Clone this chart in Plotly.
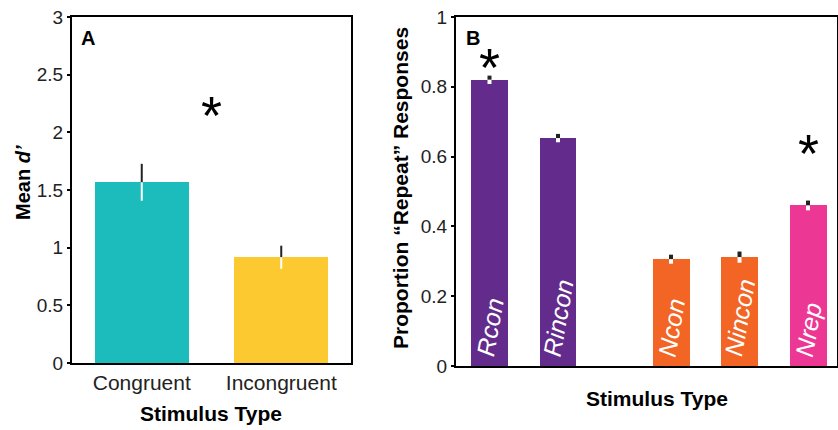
import plotly.graph_objects as go

W, H = 838, 430

# ---- Data ----
a_categories = ["Congruent", "Incongruent"]
a_values = [1.567, 0.917]
a_errors = [0.16, 0.10]
a_colors = ["#1BBCBB", "#FCC931"]

b_labels = ["Rcon", "Rincon", "Ncon", "Nincon", "Nrep"]
b_positions = [1, 2, 3.65, 4.65, 5.65]
b_values = [0.82, 0.653, 0.306, 0.312, 0.46]
b_errors = [0.012, 0.012, 0.013, 0.016, 0.014]
b_colors = ["#632B8C", "#632B8C", "#F26524", "#F26524", "#EC3794"]
b_stars = ["Rcon", "Nrep"]
b_star_y = [0.88, 0.633]

a_star_x = 0.5
a_star_y = 2.22

a_yticks = [0, 0.5, 1, 1.5, 2, 2.5, 3]
b_yticks = [0, 0.2, 0.4, 0.6, 0.8, 1]

FONT = "Liberation Sans, Arial, Helvetica, sans-serif"
TICKCOL = "#222222"


def px_x(x):
    return x / W


def px_y(y):
    return 1 - y / H


fig = go.Figure()

# Panel A bars
fig.add_trace(go.Bar(x=list(range(len(a_categories))), y=a_values, marker=dict(color=a_colors, line=dict(width=0)),
                     width=0.675, xaxis="x", yaxis="y", showlegend=False))
# error bars: black above, white inside bar
fig.add_trace(go.Scatter(x=list(range(len(a_categories))), y=a_values, mode="markers",
                         marker=dict(size=1, color="rgba(0,0,0,0)"),
                         error_y=dict(type="data", symmetric=False, array=a_errors, arrayminus=[0] * len(a_errors),
                                      color="#222222", thickness=2, width=0),
                         xaxis="x", yaxis="y", showlegend=False, hoverinfo="skip"))
fig.add_trace(go.Scatter(x=list(range(len(a_categories))), y=a_values, mode="markers",
                         marker=dict(size=1, color="rgba(0,0,0,0)"),
                         error_y=dict(type="data", symmetric=False, array=[0] * len(a_errors), arrayminus=a_errors,
                                      color="white", thickness=2, width=0),
                         xaxis="x", yaxis="y", showlegend=False, hoverinfo="skip"))

# Panel B bars
fig.add_trace(go.Bar(x=b_positions, y=b_values, marker=dict(color=b_colors, line=dict(width=0)),
                     width=0.54, xaxis="x2", yaxis="y2", showlegend=False))
fig.add_trace(go.Scatter(x=b_positions, y=b_values, mode="markers",
                         marker=dict(size=1, color="rgba(0,0,0,0)"),
                         error_y=dict(type="data", symmetric=False, array=b_errors, arrayminus=[0] * len(b_errors),
                                      color="#222222", thickness=4, width=0),
                         xaxis="x2", yaxis="y2", showlegend=False, hoverinfo="skip"))
fig.add_trace(go.Scatter(x=b_positions, y=b_values, mode="markers",
                         marker=dict(size=1, color="rgba(0,0,0,0)"),
                         error_y=dict(type="data", symmetric=False, array=[0] * len(b_errors), arrayminus=b_errors,
                                      color="white", thickness=4, width=0),
                         xaxis="x2", yaxis="y2", showlegend=False, hoverinfo="skip"))

axis_common = dict(showline=True, linecolor="black", linewidth=2, mirror=True, showgrid=False, zeroline=False,
                   automargin=False)

fig.update_layout(
    width=W, height=H, autosize=False,
    margin=dict(l=0, r=0, t=0, b=0),
    paper_bgcolor="white", plot_bgcolor="white",
    font=dict(family=FONT, color=TICKCOL),
    xaxis=dict(domain=[px_x(72), px_x(351)], range=[-0.5, 1.5], tickmode="array",
               tickvals=list(range(len(a_categories))), ticktext=a_categories, ticks="",
               tickfont=dict(size=21, color=TICKCOL, family=FONT), anchor="y", **axis_common),
    yaxis=dict(domain=[px_y(363), px_y(17)], range=[0, 3], tickmode="array", tickvals=a_yticks,
               ticks="outside", ticklen=3, tickwidth=1.5, tickcolor="black",
               tickfont=dict(size=19, color=TICKCOL, family=FONT), anchor="x", **axis_common),
    xaxis2=dict(domain=[px_x(456), px_x(837)], range=[0.511, 6.073], showticklabels=False, ticks="",
                anchor="y2", **axis_common),
    yaxis2=dict(domain=[px_y(366), px_y(17)], range=[0, 1], tickmode="array", tickvals=b_yticks,
                ticks="outside", ticklen=3, tickwidth=1.5, tickcolor="black",
                tickfont=dict(size=19, color=TICKCOL, family=FONT), anchor="x2", **axis_common),
    bargap=0,
)

ann = []
# Panel letters
ann.append(dict(text="<b>A</b>", x=px_x(88), y=px_y(38), xref="paper", yref="paper", showarrow=False,
                font=dict(size=20, color="black", family=FONT), xanchor="center", yanchor="middle"))
ann.append(dict(text="<b>B</b>", x=px_x(472.5), y=px_y(38), xref="paper", yref="paper", showarrow=False,
                font=dict(size=20, color="black", family=FONT), xanchor="center", yanchor="middle"))
# Axis titles
ann.append(dict(text="<b>Mean <i>d’</i></b>", x=px_x(23), y=px_y(183), xref="paper", yref="paper",
                showarrow=False, textangle=-90, font=dict(size=20, color="black", family=FONT),
                xanchor="center", yanchor="middle"))
ann.append(dict(text="<b>Proportion “Repeat” Responses</b>", x=px_x(400), y=px_y(188), xref="paper", yref="paper",
                showarrow=False, textangle=-90, font=dict(size=21, color="black", family=FONT),
                xanchor="center", yanchor="middle"))
ann.append(dict(text="<b>Stimulus Type</b>", x=px_x(211), y=px_y(413), xref="paper", yref="paper",
                showarrow=False, font=dict(size=21, color="black", family=FONT), xanchor="center", yanchor="middle"))
ann.append(dict(text="<b>Stimulus Type</b>", x=px_x(657), y=px_y(398), xref="paper", yref="paper",
                showarrow=False, font=dict(size=21, color="black", family=FONT), xanchor="center", yanchor="middle"))
# Stars
ann.append(dict(text="*", x=a_star_x, y=a_star_y, xref="x", yref="y", showarrow=False,
                font=dict(size=54, color="black", family=FONT), xanchor="center", yanchor="middle", yshift=-8))
for lab, sy in zip(b_stars, b_star_y):
    i = b_labels.index(lab)
    ann.append(dict(text="*", x=b_positions[i], y=sy, xref="x2", yref="y2", showarrow=False,
                    font=dict(size=54, color="black", family=FONT), xanchor="center", yanchor="middle", yshift=-8))
# Bar labels
for lab, xpos in zip(b_labels, b_positions):
    ann.append(dict(text="<i>" + lab + "</i>", x=xpos, y=0, xref="x2", yref="y2", showarrow=False,
                    textangle=-80, font=dict(size=25, color="white", family=FONT),
                    xanchor="center", yanchor="bottom", yshift=5))

fig.update_layout(annotations=ann)
fig.write_html("out.html", config={"displayModeBar": False},
               post_script="document.body.style.margin='0px';document.body.style.padding='0px';")
